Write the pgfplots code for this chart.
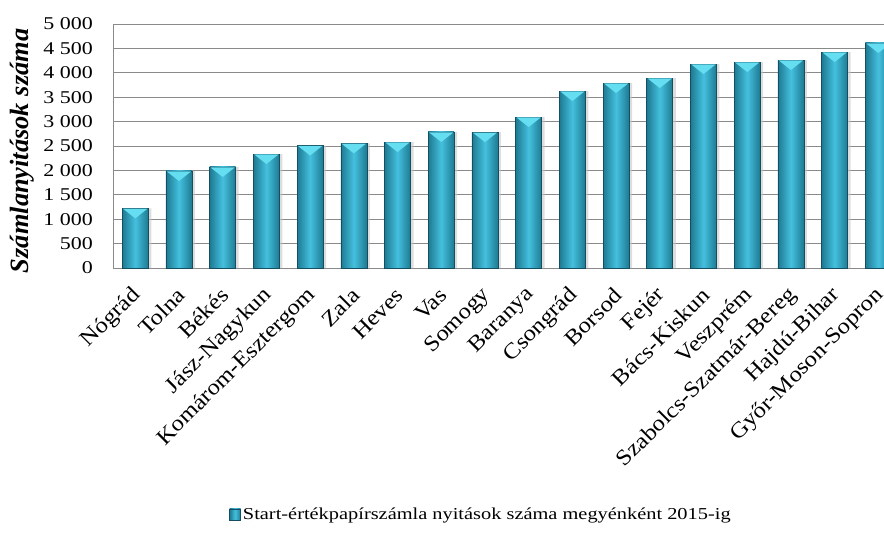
\documentclass[border=0pt]{standalone}
\usepackage{fontspec}
\setmainfont{Liberation Serif}
\newfontfamily\widefont{Liberation Serif}[FakeStretch=1.22]
\newfontfamily\labfont{Liberation Serif}[FakeStretch=1.12]
\usepackage{pgfplots}
\usepackage{pgfplotstable}
\pgfplotsset{compat=1.18}
\definecolor{bardark}{RGB}{30,122,146}
\definecolor{barmid}{RGB}{68,192,222}
\definecolor{baredge}{RGB}{20,78,96}
\definecolor{bevel}{RGB}{100,222,240}
\definecolor{gridg}{RGB}{138,138,138}
\pgfplotsset{mybar/.style={ybar, bar width=26pt, draw=baredge, line width=0.6pt,
  left color=bardark, right color=bardark, middle color=barmid}}
\pgfdeclareplotmark{bevel}{%
  \pgfpathmoveto{\pgfpoint{-12.2pt}{-0.4pt}}%
  \pgfpathlineto{\pgfpoint{12.2pt}{-0.4pt}}%
  \pgfpathlineto{\pgfpoint{0pt}{-10pt}}%
  \pgfpathclose\pgfusepathqfill}
\pgfplotstableread{
x y
0 1223
1 1988
2 2070
3 2336
4 2510
5 2555
6 2582
7 2787
8 2784
9 3094
10 3627
11 3791
12 3893
13 4180
14 4221
15 4262
16 4426
17 4611
}\datatable
\begin{document}
\begin{tikzpicture}
\useasboundingbox (-113.4pt,-276pt) rectangle (770.6pt,268pt);
\begin{axis}[
  at={(0,0)}, anchor=south west,
  scale only axis, width=770.6pt, height=244pt,
  xmin=-0.5, xmax=17.13, ymin=0, ymax=5000,
  ytick={0,500,...,5000},
  xtick={0,...,17},
  xticklabels={Nógrád,Tolna,Békés,Jász-Nagykun,Komárom-Esztergom,Zala,Heves,Vas,Somogy,Baranya,Csongrád,Borsod,Fejér,Bács-Kiskun,Veszprém,Szabolcs-Szatmár-Bereg,Hajdú-Bihar,Győr-Moson-Sopron},
  axis x line*=bottom, axis y line*=left,
  axis line style={gridg, line width=1pt, -},
  tick style={draw=none},
  ymajorgrids, major grid style={gridg, line width=1pt},
  /pgf/number format/assume math mode=true,
  /pgf/number format/1000 sep={\ },
  yticklabel style={font=\widefont\fontsize{18}{18}\selectfont, xshift=-17pt},
  xticklabel style={xshift=3pt, yshift=-23pt, font=\labfont\fontsize{22}{22}\selectfont, rotate=45, anchor=east, inner sep=1pt},
  ylabel={\textbf{\textit{Számlanyitások száma}}},
  ylabel style={font=\fontsize{26.4}{26.4}\selectfont, at={(axis description cs:-0.1186,0.48)}, anchor=center},
  legend style={at={(0.477,-1.012)}, anchor=center, draw=none, fill=none,
    font=\widefont\fontsize{16.7}{16.7}\selectfont, /tikz/every even column/.append style={column sep=2pt}},
  legend image code/.code={\draw[draw=baredge, left color=bardark, right color=bardark, middle color=barmid] (0pt,-5pt) rectangle (11pt,6pt);},
  clip=true,
]
\addplot[ybar, bar width=26pt, bar shift=3pt, fill=black!22, draw=none, opacity=0.6, forget plot] table[x=x,y=y] {\datatable};
\pgfplotsinvokeforeach{0,...,17}{%
  \pgfmathtruncatemacro{\nxt}{#1+1}%
  \addplot[mybar, forget plot, skip coords between index={0}{#1}, skip coords between index={\nxt}{18}] table[x=x,y=y] {\datatable};
}
\addplot[only marks, mark=bevel, color=bevel, forget plot] table[x=x,y=y] {\datatable};
\addlegendimage{mybar}
\addlegendentry{Start-értékpapírszámla nyitások száma megyénként 2015-ig}
\end{axis}
\end{tikzpicture}
\end{document}
